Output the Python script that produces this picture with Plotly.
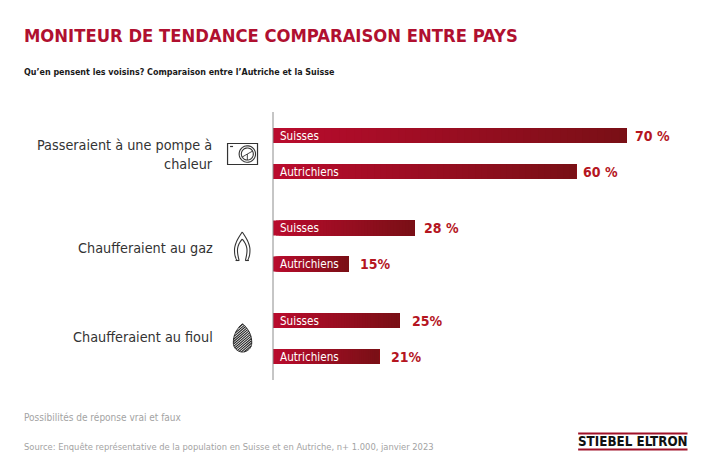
import numpy as np
import plotly.graph_objects as go

groups = ["Passeraient à une pompe à<br>chaleur", "Chaufferaient au gaz", "Chaufferaient au fioul"]
row_names = ["Suisses", "Autrichiens", "Suisses", "Autrichiens", "Suisses", "Autrichiens"]
row_values = [70, 60, 28, 15, 25, 21]
row_labels = ["70 %", "60 %", "28 %", "15%", "25%", "21%"]

W, H = 710, 473
L, R, T, B = 272.5, 10, 112, 93
RED = "#b01030"
NARROW = "DejaVu Sans Condensed, Liberation Sans Narrow, sans-serif"

# gap between bar end and its value label differs per row in the original
label_shift = [6, 5, 8, 9, 11, 10]

# page pixels to paper coordinates, for the icons and the header/footer
def px(x):
    return (x - L) / (W - L - R)

def py(y):
    return 1 - (y - T) / (H - T - B)

def path(points, close=False):
    s = " ".join(("M" if i == 0 else "L") + f"{px(x):.5f},{py(y):.5f}" for i, (x, y) in enumerate(points))
    return s + (" Z" if close else "")

def circle(cx, cy, r):
    return [(cx + r * np.cos(a), cy + r * np.sin(a)) for a in np.linspace(0, 2 * np.pi, 40)]

def bez(p0, p1, p2, p3):
    out = []
    for t in np.linspace(0, 1, 16):
        out.append(((1 - t) ** 3 * p0[0] + 3 * (1 - t) ** 2 * t * p1[0] + 3 * (1 - t) * t ** 2 * p2[0] + t ** 3 * p3[0],
                    (1 - t) ** 3 * p0[1] + 3 * (1 - t) ** 2 * t * p1[1] + 3 * (1 - t) * t ** 2 * p2[1] + t ** 3 * p3[1]))
    return out

# row centres on the y axis, rows in pixels below the top of the plot
row_pos = []
for g in range(3):
    row_pos += [23.5 + g * 92.5, 59.5 + g * 92.5]

fig = go.Figure()

# gradient: each bar painted as overlapping steps, bright at the left and dark at the right
steps = 48
c0 = np.array([186, 12, 46])
c1 = np.array([122, 16, 22])
vals = np.array(row_values, dtype=float)
for i in range(steps):
    t = i / (steps - 1)
    c = (c0 + (c1 - c0) * t).astype(int)
    fig.add_trace(go.Bar(
        x=vals * (1 - i / steps), base=vals * i / steps, y=row_pos, orientation="h",
        width=15, marker=dict(color=f"rgb({c[0]},{c[1]},{c[2]})", line_width=0),
        showlegend=False, hoverinfo="skip",
    ))

annots = []
for y, name, v, lab, shift in zip(row_pos, row_names, row_values, row_labels, label_shift):
    annots.append(dict(x=0, y=y, xref="x", yref="y", text=name, xanchor="left", yanchor="middle", xshift=5,
                       showarrow=False, font=dict(family=NARROW, size=11.6, color="white")))
    annots.append(dict(x=v, y=y, xref="x", yref="y", text=f"<b>{lab}</b>", xanchor="left", yanchor="middle", xshift=shift,
                       showarrow=False, font=dict(family=NARROW, size=14, color="#b5161f")))

# left hand group labels
for text, y in zip(groups, [154, 248, 337]):
    annots.append(dict(x=px(214), y=py(y), xref="paper", yref="paper", text=text, xanchor="right", yanchor="middle",
                       align="right", showarrow=False, font=dict(family=NARROW, size=14.3, color="#333333")))

def page_text(x, y, text, size, color):
    annots.append(dict(x=px(x), y=py(y), xref="paper", yref="paper", text=text, xanchor="left", yanchor="middle",
                       showarrow=False, font=dict(family=NARROW, size=size, color=color)))

page_text(21, 35, "<b>MONITEUR DE TENDANCE COMPARAISON ENTRE PAYS</b>", 18.3, RED)
page_text(21, 72, "<b>Qu’en pensent les voisins? Comparaison entre l’Autriche et la Suisse</b>", 8.9, "#1a1a1a")
page_text(21, 417, "Possibilités de réponse vrai et faux", 10, "#a3a3a3")
page_text(21, 446, "Source: Enquête représentative de la population en Suisse et en Autriche, n+ 1.000, janvier 2023", 9.3, "#a3a3a3")
page_text(575.5, 441.5, "<b>STIEBEL ELTRON</b>", 13.3, "#111111")

shapes = []
def add_path(d, width=1.0, color="#333333", fill=None):
    shapes.append(dict(type="path", xref="paper", yref="paper", path=d, line=dict(color=color, width=width),
                       fillcolor=fill))

# axis line
shapes.append(dict(type="line", xref="paper", yref="paper", x0=0, x1=0, y0=0, y1=1, line=dict(color="#8c8c8c", width=1)))

# logo rules
for y in [433.5, 449.5]:
    shapes.append(dict(type="line", xref="paper", yref="paper", x0=px(578), x1=px(687.5), y0=py(y), y1=py(y),
                       line=dict(color="#a01028", width=2)))

# heat pump icon
add_path(path([(227, 143.5), (257, 143.5), (257, 164.5), (227, 164.5)], True), width=1.2)
add_path(path([(229.5, 146.5), (232.5, 146.5)]), width=1.2)
add_path(path(circle(246.8, 154, 8.2)), width=1.1)
add_path(path(circle(246.8, 154, 6)), width=1.1)
for a in [-0.5, 2.6, 1.57]:
    add_path(path([(246.8, 154), (246.8 + 6 * np.cos(a), 154 + 6 * np.sin(a))]), width=0.9)

# flame icon, right half is the left one mirrored
mid = 241.7
outer = bez((mid, 232), (237.5, 238), (233.5, 245), (234, 251)) + bez((234, 251), (234, 255), (235, 258), (236.5, 260.5))
inner = bez((mid, 239), (238.5, 243), (236.5, 247), (237, 252)) + bez((237, 252), (237.2, 255), (238, 258), (238.5, 260.5))
foot = [(235, 260.5), (238.7, 260.5)]
for part in [outer, inner, foot]:
    add_path(path(part), width=1.1)
    add_path(path([(2 * mid - x, y) for x, y in part]), width=1.1)

# drop icon, hatching is the diagonals clipped to the outline
ang = np.linspace(0, 2 * np.pi, 80)
drop = np.column_stack([242 + 9.2 * np.sin(ang), 343 - 9 * np.cos(ang)])
top = np.cos(ang) > 0
drop[top, 1] = 343 - 19 * np.cos(ang[top])
drop[top, 0] = 242 + 9.2 * np.sin(ang[top]) * (1 - 0.55 * np.cos(ang[top]) ** 3)
add_path(path(drop.tolist(), True), color="#222222", fill="rgba(255,255,255,0)")
for off in np.arange(-30, 30, 2.4):
    xs = np.linspace(231, 253, 120)
    ys = 340 + off - (xs - 242) * 0.85
    inside = []
    for x, y in zip(xs, ys):
        n = 0
        for (x1, y1), (x2, y2) in zip(drop[:-1], drop[1:]):
            if (y1 > y) != (y2 > y) and x < x1 + (y - y1) / (y2 - y1) * (x2 - x1):
                n += 1
        if n % 2:
            inside.append((x, y))
    if len(inside) > 1:
        add_path(path([inside[0], inside[-1]]), width=1.1, color="#222222")

fig.update_layout(
    width=W, height=H, margin=dict(l=L, r=R, t=T, b=B, pad=0), autosize=False,
    barmode="overlay", plot_bgcolor="white", paper_bgcolor="white", showlegend=False,
    xaxis=dict(range=[0, (W - L - R) / (354 / 70)], visible=False, fixedrange=True),
    yaxis=dict(range=[H - T - B, 0], visible=False, fixedrange=True),
    annotations=annots, shapes=shapes,
)

fig.write_html("out.html", config=dict(displayModeBar=False), post_script="document.body.style.margin='0';")
